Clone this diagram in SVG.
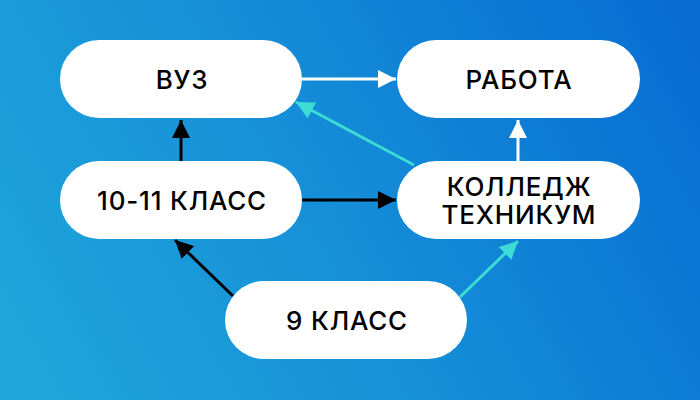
<svg xmlns="http://www.w3.org/2000/svg" width="700" height="400" viewBox="0 0 700 400">
  <defs>
    <linearGradient id="bg" x1="0" y1="400" x2="700" y2="0" gradientUnits="userSpaceOnUse">
      <stop offset="0" stop-color="#20a8da"/>
      <stop offset="0.45" stop-color="#1690d8"/>
      <stop offset="1" stop-color="#066bd2"/>
    </linearGradient>
    <marker id="ah-black" viewBox="0 0 10 10" refX="10" refY="5" markerWidth="6" markerHeight="6" markerUnits="strokeWidth" orient="auto">
      <path d="M0,0 L10,5 L0,10 z" fill="#000"/>
    </marker>
    <marker id="ah-white" viewBox="0 0 10 10" refX="10" refY="5" markerWidth="6" markerHeight="6" markerUnits="strokeWidth" orient="auto">
      <path d="M0,0 L10,5 L0,10 z" fill="#fff"/>
    </marker>
    <marker id="ah-cyan" viewBox="0 0 10 10" refX="10" refY="5" markerWidth="6" markerHeight="6" markerUnits="strokeWidth" orient="auto">
      <path d="M0,0 L10,5 L0,10 z" fill="#3cdcd4"/>
    </marker>
  </defs>
  <style>
    .node rect { fill: #ffffff; }
    .node text { font-family: "Inter", "Noto Sans", "Liberation Sans", sans-serif; font-size: 26px; font-weight: 500; letter-spacing: 0.8px; fill: #000; text-anchor: middle; dominant-baseline: central; }
    .c { fill: none; stroke-width: 3; }
    .black { stroke: #000; marker-end: url(#ah-black); }
    .white { stroke: #fff; marker-end: url(#ah-white); }
    .cyan { stroke: #3cdcd4; marker-end: url(#ah-cyan); }
  </style>
  <rect width="700" height="400" fill="url(#bg)"/>
  <g id="connectors">
    <line class="c white" x1="302" y1="79" x2="396" y2="79"/>
    <line class="c cyan" x1="414" y1="165" x2="296" y2="102"/>
    <line class="c black" x1="181" y1="161" x2="181" y2="120"/>
    <line class="c white" x1="518" y1="161" x2="518" y2="120"/>
    <line class="c black" x1="302" y1="200" x2="396" y2="200"/>
    <line class="c black" x1="233" y1="296" x2="175" y2="240"/>
    <line class="c cyan" x1="460" y1="297" x2="518" y2="241"/>
  </g>
  <g id="vuz" class="node">
    <rect x="60" y="40" width="242" height="78" rx="39"/>
    <text x="182" y="79">ВУЗ</text>
  </g>
  <g id="rabota" class="node">
    <rect x="397" y="40" width="243" height="78" rx="39"/>
    <text x="519" y="79">РАБОТА</text>
  </g>
  <g id="klass10-11" class="node">
    <rect x="60" y="161" width="242" height="78" rx="39"/>
    <text x="182" y="200">10-11 КЛАСС</text>
  </g>
  <g id="kolledzh" class="node">
    <rect x="397" y="161" width="243" height="78" rx="39"/>
    <text x="519" y="186">КОЛЛЕДЖ</text>
    <text x="519" y="214">ТЕХНИКУМ</text>
  </g>
  <g id="klass9" class="node">
    <rect x="225" y="281" width="242" height="78" rx="39"/>
    <text x="347" y="320">9 КЛАСС</text>
  </g>
</svg>
